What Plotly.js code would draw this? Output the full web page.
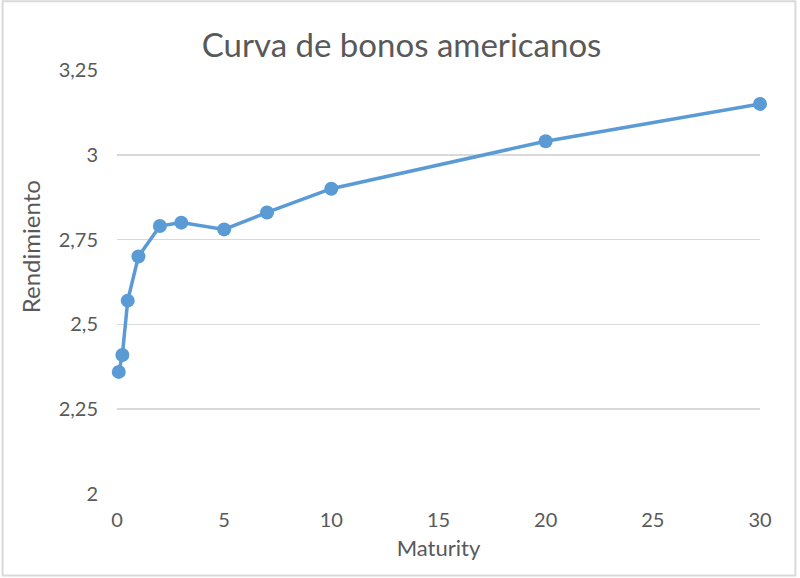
<!DOCTYPE html>
<html>
<head>
<meta charset="utf-8">
<script src="https://cdn.plot.ly/plotly-3.0.1.min.js"></script>
<style>html,body{margin:0;padding:0;background:#fff}#chart{width:800px;height:578px}</style>
</head>
<body>
<div id="chart"></div>
<script>
const maturity = [0.083, 0.25, 0.5, 1, 2, 3, 5, 7, 10, 20, 30];
const yieldValues = [2.36, 2.41, 2.57, 2.70, 2.79, 2.80, 2.78, 2.83, 2.90, 3.04, 3.15];
const yTicks = [2, 2.25, 2.5, 2.75, 3, 3.25];
const xTicks = [0, 5, 10, 15, 20, 25, 30];

const trace = {
  x: maturity, y: yieldValues, type: 'scatter', mode: 'lines+markers',
  line: {color: '#5b9bd5', width: 3.5},
  marker: {color: '#5b9bd5', size: 14},
  cliponaxis: false,
  hoverinfo: 'x+y'
};
const font = 'Lato, Open Sans, sans-serif';
const layout = {
  width: 800, height: 578,
  separators: ',.',
  paper_bgcolor: '#ffffff', plot_bgcolor: '#ffffff',
  margin: {l: 117, r: 40, t: 70, b: 84},
  showlegend: false,
  font: {family: font, color: '#595959'},
  title: {text: 'Curva de bonos americanos', font: {size: 33, color: '#595959', family: font}, x: 0.502, xanchor: 'center', y: 0.922, yanchor: 'middle'},
  xaxis: {
    range: [0, 30], tickvals: xTicks, showgrid: false, zeroline: false, showline: false,
    ticks: '', tickfont: {size: 20, color: '#595959'}, ticklabelstandoff: 12,
    title: {text: 'Maturity', font: {size: 22, color: '#595959'}, standoff: 10}
  },
  yaxis: {
    range: [2, 3.25], tickvals: yTicks, showgrid: true, gridcolor: '#d9d9d9', gridwidth: 1.5,
    zeroline: false, showline: false, ticks: '', tickfont: {size: 20, color: '#595959'}, ticklabelstandoff: 18
  },
  annotations: [{text: 'Rendimiento', xref: 'paper', yref: 'paper', x: -0.135, y: 0.5825,
                 xanchor: 'center', yanchor: 'middle', textangle: -90, showarrow: false,
                 font: {size: 24, color: '#595959', family: font}}],
  shapes: [{type: 'rect', xref: 'paper', yref: 'paper', x0: -0.178, x1: 1.055, y0: -0.192, y1: 1.162,
            line: {color: '#d9d9d9', width: 2}, fillcolor: 'rgba(0,0,0,0)', layer: 'below'}]
};
Plotly.newPlot('chart', [trace], layout, {displayModeBar: false, staticPlot: true});
</script>
</body>
</html>
